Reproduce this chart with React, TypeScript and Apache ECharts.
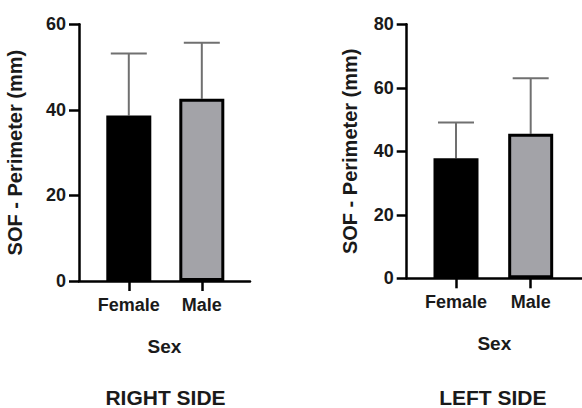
import React, { useEffect, useRef } from "react";
import * as echarts from "echarts";

const categories = ["Female", "Male"];
const barColors = ["#000000", "#a3a3a8"];

const rightMeans = [38.7, 42.6];
const rightErrors = [14.5, 13.1];
const rightTicks = [0, 20, 40, 60];

const leftMeans = [37.8, 45.5];
const leftErrors = [11.3, 17.5];
const leftTicks = [0, 20, 40, 60, 80];

const panelTitles = ["RIGHT SIDE", "LEFT SIDE"];
const xAxisTitle = "Sex";
const yAxisTitle = "SOF - Perimeter (mm)";

const FONT = "'Liberation Sans', Arial, sans-serif";
const TEXT = "#1a1a1a";

export default function App() {
  const ref = useRef<HTMLDivElement>(null);

  useEffect(() => {
    if (!ref.current) return;
    const chart = echarts.init(ref.current, null, { renderer: "svg" });

    const panels = [
      { means: rightMeans, errors: rightErrors, ticks: rightTicks, left: 79, right: 250, top: 24.3, bottom: 281, xMin: -0.682, xMax: 1.66, yNameGap: 54 },
      { means: leftMeans, errors: leftErrors, ticks: leftTicks, left: 406.7, right: 582, top: 24.3, bottom: 278.3, xMin: -0.66, xMax: 1.687, yNameGap: 47 },
    ];
    const catPositions = categories.map((_, k) => k);

    const grid = panels.map((p) => ({ left: p.left, width: p.right - p.left, top: p.top, height: p.bottom - p.top }));

    const xAxis = panels.map((p, i) => ({
      type: "value",
      gridIndex: i,
      min: p.xMin,
      max: p.xMax,
      name: xAxisTitle,
      nameLocation: "middle",
      nameGap: 56,
      nameTextStyle: { fontFamily: FONT, fontWeight: "bold", fontSize: 19, color: TEXT },
      axisLine: { show: true, onZero: false, lineStyle: { color: "#000", width: 2.5 } },
      axisTick: { show: true, customValues: catPositions, length: 10, lineStyle: { color: "#000", width: 2.5 } },
      axisLabel: {
        customValues: catPositions,
        formatter: (v: number) => categories[Math.round(v)] ?? "",
        fontFamily: FONT,
        fontWeight: "bold",
        fontSize: 18,
        color: TEXT,
        margin: 15,
      },
      splitLine: { show: false },
    }));

    const yAxis = panels.map((p, i) => ({
      type: "value",
      gridIndex: i,
      min: 0,
      max: p.ticks[p.ticks.length - 1],
      interval: p.ticks[1] - p.ticks[0],
      name: yAxisTitle,
      nameLocation: "middle",
      nameRotate: 90,
      nameGap: p.yNameGap,
      nameTextStyle: { fontFamily: FONT, fontWeight: "bold", fontSize: 20, color: TEXT },
      axisLine: { show: true, onZero: false, lineStyle: { color: "#000", width: 2.5 } },
      axisTick: { show: true, length: 10, lineStyle: { color: "#000", width: 2.5 } },
      axisLabel: { fontFamily: FONT, fontWeight: "bold", fontSize: 18, color: TEXT, margin: 13 },
      splitLine: { show: false },
    }));

    const series: any[] = [];
    panels.forEach((p, i) => {
      series.push({
        type: "custom",
        xAxisIndex: i,
        yAxisIndex: i,
        z: 1,
        data: categories.map((_, k) => [catPositions[k], p.means[k], p.means[k] + p.errors[k]]),
        renderItem: (params: any, api: any) => {
          const x = api.value(0);
          const base = api.coord([x, api.value(1)]);
          const top = api.coord([x, api.value(2)]);
          const half = 18;
          const style = { stroke: "#707070", lineWidth: 2 };
          return {
            type: "group",
            children: [
              { type: "line", shape: { x1: base[0], y1: base[1], x2: top[0], y2: top[1] }, style },
              { type: "line", shape: { x1: top[0] - half, y1: top[1], x2: top[0] + half, y2: top[1] }, style },
            ],
          };
        },
      });
      series.push({
        type: "bar",
        xAxisIndex: i,
        yAxisIndex: i,
        z: 3,
        barWidth: 45,
        data: p.means.map((v, k) => ({
          value: [catPositions[k], v],
          itemStyle: { color: barColors[k], borderColor: "#000", borderWidth: 3 },
        })),
      });
    });

    const graphic: any[] = panels.map((p, i) => ({
      type: "text",
      x: (p.left + p.right) / 2 + (i === 0 ? 1 : -1.5),
      y: 397,
      style: {
        text: panelTitles[i],
        fontFamily: FONT,
        fontWeight: "bold",
        fontSize: 21,
        lineHeight: 21,
        fill: TEXT,
        align: "center",
        verticalAlign: "middle",
      },
    }));

    chart.setOption({
      animation: false,
      backgroundColor: "#ffffff",
      grid,
      xAxis,
      yAxis,
      series,
      graphic,
    });

    return () => chart.dispose();
  }, []);

  return <div ref={ref} style={{ position: "absolute", left: 0, top: 0, width: 582, height: 408 }} />;
}
